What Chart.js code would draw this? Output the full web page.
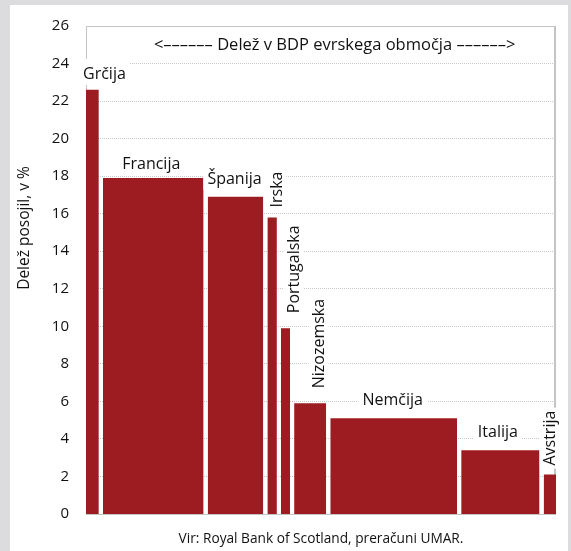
<!DOCTYPE html>
<html>
<head>
<meta charset="utf-8">
<script src="https://cdn.jsdelivr.net/npm/chart.js@4/dist/chart.umd.min.js"></script>
<style>
  html, body { margin: 0; padding: 0; background: #dcdcdf; }
  #wrap { width: 571px; height: 551px; position: relative; }
</style>
</head>
<body>
<div id="wrap"><canvas id="c" width="571" height="551"></canvas></div>
<script>
// Countries, ordered by the share of loans in their banking system
const countries = ['Grčija', 'Francija', 'Španija', 'Irska', 'Portugalska', 'Nizozemska', 'Nemčija', 'Italija', 'Avstrija'];
// Height of each bar: share of loans, in %
const loanShare = [22.6, 17.9, 16.9, 15.8, 9.9, 5.9, 5.1, 3.4, 2.1];
// Width of each bar: share of euro-area GDP, in %
const gdpShare = [2.7, 21.2, 11.7, 2.0, 1.9, 6.75, 26.7, 16.5, 2.6];
// Value axis
const yMin = 0, yMax = 26, yStep = 2;

const yAxisTitle = 'Delež posojil, v %';
const widthNote = '<–––––– Delež v BDP evrskega območja ––––––>';
const sourceNote = 'Vir: Royal Bank of Scotland, preračuni UMAR.';

// Styling
const BAR_COLOR = '#9c1c21';
const FRAME_COLOR = '#c4c4c4';
const TEXT_COLOR = '#111111';
const FONT = '"Open Sans", "Noto Sans", sans-serif';
const GAP = 0.865;                // empty space between neighbouring bars (x units)
const vertical = [false, false, false, true, true, true, false, false, true];
const nudge = [[12, 11], [-2, 9], [-1, 13], [4, 10], [8, 15], [8.5, 15], [-1, 13], [-2.5, 13], [0, 9]];

// Build one filled outline per country along a continuous x axis
let cursor = 0;
const spans = [];
const datasets = countries.map((name, i) => {
  const x0 = cursor, x1 = cursor + gdpShare[i];
  spans.push([x0, x1]);
  cursor = x1 + GAP;
  return {
    label: name,
    data: [{x: x0, y: 0}, {x: x0, y: loanShare[i]}, {x: x1, y: loanShare[i]}, {x: x1, y: 0}],
    backgroundColor: BAR_COLOR,
    borderColor: BAR_COLOR,
    borderWidth: 0,
    pointRadius: 0,
    tension: 0,
    fill: 'origin'
  };
});
const xMax = cursor - GAP;

const panel = {
  id: 'panel',
  beforeDraw(chart) {
    const ctx = chart.ctx;
    ctx.save();
    ctx.fillStyle = '#dcdcdf';
    ctx.fillRect(0, 0, chart.width, chart.height);
    ctx.fillStyle = '#ffffff';
    ctx.fillRect(10, 5, 558, chart.height - 5);
    ctx.restore();
  },
  beforeDatasetsDraw(chart) {
    const {ctx, chartArea: a} = chart;
    ctx.save();
    ctx.strokeStyle = FRAME_COLOR;
    ctx.lineWidth = 1;
    ctx.beginPath();
    ctx.moveTo(a.left + 0.5, a.bottom); ctx.lineTo(a.left + 0.5, a.top + 0.5);
    ctx.lineTo(a.right, a.top + 0.5);
    ctx.moveTo(a.left, a.bottom + 0.5); ctx.lineTo(a.right, a.bottom + 0.5);
    ctx.stroke();
    ctx.lineWidth = 2;
    ctx.beginPath();
    ctx.moveTo(a.right - 1, a.top); ctx.lineTo(a.right - 1, a.bottom + 1);
    ctx.stroke();
    ctx.restore();
  },
  afterDatasetsDraw(chart) {
    const {ctx, chartArea: a, scales: {x, y}} = chart;
    ctx.save();
    ctx.font = '16px ' + FONT;
    ctx.fillStyle = TEXT_COLOR;
    countries.forEach((name, i) => {
      const cx = (x.getPixelForValue(spans[i][0]) + x.getPixelForValue(spans[i][1])) / 2 + nudge[i][0];
      const top = y.getPixelForValue(loanShare[i]);
      const w = ctx.measureText(name).width;
      if (!vertical[i]) {
        const base = top - nudge[i][1];
        ctx.fillStyle = '#ffffff';
        ctx.fillRect(cx - w / 2 - 4, base - 20, w + 8, 26);
        ctx.fillStyle = TEXT_COLOR;
        ctx.textAlign = 'center';
        ctx.textBaseline = 'alphabetic';
        ctx.fillText(name, cx, base);
      } else {
        const start = top - nudge[i][1];
        ctx.fillStyle = '#ffffff';
        ctx.fillRect(cx - 10, start - w - 3, 20, w + 6);
        ctx.save();
        ctx.translate(cx, start);
        ctx.rotate(-Math.PI / 2);
        ctx.fillStyle = TEXT_COLOR;
        ctx.textAlign = 'left';
        ctx.textBaseline = 'middle';
        ctx.fillText(name, 0, 1);
        ctx.restore();
      }
    });
    // note on the bar widths
    ctx.font = '16.5px ' + FONT;
    ctx.fillStyle = TEXT_COLOR;
    ctx.textAlign = 'center';
    ctx.textBaseline = 'alphabetic';
    ctx.fillText(widthNote, a.left + (a.right - a.left) * 0.529, a.top + 24);
    ctx.restore();
  },
  afterDraw(chart) {
    const {ctx, chartArea: a} = chart;
    ctx.save();
    ctx.fillStyle = TEXT_COLOR;
    ctx.font = '15.5px ' + FONT;
    ctx.translate(25, 228);
    ctx.rotate(-Math.PI / 2);
    ctx.textAlign = 'center';
    ctx.textBaseline = 'middle';
    ctx.fillText(yAxisTitle, 0, 0);
    ctx.restore();
    ctx.save();
    ctx.fillStyle = TEXT_COLOR;
    ctx.font = '13.7px ' + FONT;
    ctx.textAlign = 'center';
    ctx.textBaseline = 'alphabetic';
    ctx.fillText(sourceNote, 321, 543);
    ctx.restore();
  }
};

new Chart(document.getElementById('c'), {
  type: 'line',
  data: { datasets },
  options: {
    responsive: false,
    animation: false,
    layout: { padding: { left: 0, right: 15, top: 19, bottom: 37 } },
    plugins: { legend: { display: false }, tooltip: { enabled: false } },
    scales: {
      x: { type: 'linear', min: 0, max: xMax, display: false },
      y: {
        type: 'linear', min: yMin, max: yMax,
        afterFit(s) { s.width = 86; },
        ticks: { stepSize: yStep, padding: 17, color: TEXT_COLOR, font: { family: FONT, size: 15 } },
        grid: {
          drawTicks: false,
          color: (c) => (c.tick && (c.tick.value === yMin || c.tick.value === yMax)) ? 'rgba(0,0,0,0)' : '#c8c8c8'
        },
        border: { display: false, dash: [1, 1] }
      }
    }
  },
  plugins: [panel]
});
</script>
</body>
</html>
